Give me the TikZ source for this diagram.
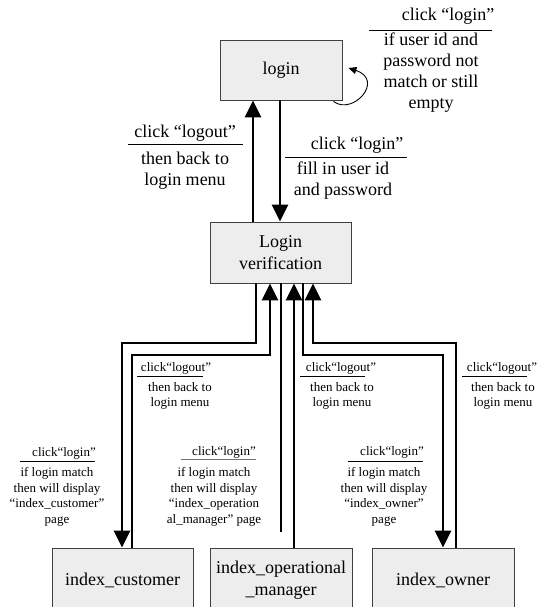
\documentclass[tikz,border=0pt]{standalone}
\usepackage{fontspec}
\setmainfont{Liberation Serif}
\usetikzlibrary{arrows.meta}
\begin{document}
\begin{tikzpicture}[x=1pt,y=-1pt,
  state/.style={draw=black!75,line width=0.9pt,fill=black!7,inner sep=0pt,
    align=center,font=\fontsize{18}{22}\selectfont},
  flow/.style={line width=2.8pt,-{Triangle[length=17pt,width=16pt]}},
  plain/.style={line width=2.8pt},
  loopflow/.style={line width=0.9pt,-{Triangle[length=8pt,width=7pt]}},
  big/.style={font=\fontsize{18}{21}\selectfont,inner sep=0pt,align=center},
  small/.style={font=\fontsize{13}{15.7}\selectfont,inner sep=0pt,align=center},
  rule/.style={line width=0.9pt},
]
\useasboundingbox (0,0) rectangle (538,607);

% states
\node[state,minimum width=122pt,minimum height=60pt] (login) at (281,70) {login};
\node[state,minimum width=141pt,minimum height=61pt] (verif) at (280.5,252.5) {Login\\verification};
\node[state,minimum width=141pt,minimum height=64pt] (cust) at (122.5,580) {index\_customer};
\node[state,minimum width=142pt,minimum height=64pt] (opm) at (281,580) {index\_operational\\\_manager};
\node[state,minimum width=142pt,minimum height=64pt] (owner) at (443,580) {index\_owner};

% login <-> verification
\draw[flow] (verif.north -| 253,0) -- (login.south -| 253,0);
\draw[flow] (login.south -| 280,0) -- (verif.north -| 280,0);
\draw[loopflow] ([xshift=-9pt,yshift=-1pt]login.south east)
  .. controls (353,116) and (385,80) .. ([xshift=6pt,yshift=2pt]login.east);

% verification <-> index pages
\draw[flow] (verif.south -| 256,0) |- (122,343) -- (cust.north -| 122,0);
\draw[flow] (cust.north -| 132,0) |- (270,355) -- (verif.south -| 270,0);
\draw[plain] (verif.south -| 281,0) -- (281,532);
\draw[flow] (opm.north -| 294,0) -- (verif.south -| 294,0);
\draw[flow] (verif.south -| 303,0) |- (443,355) -- (owner.north -| 443,0);
\draw[flow] (owner.north -| 456,0) |- (313,343) -- (verif.south -| 313,0);

% labels of the upper part
\node[big] (lbA) at (448,16) {click “login”};
\draw[rule] (369,30) -- (492,30);
\node[big,anchor=north] (lbAt) at (431,33) {if user id and\\password not\\match or still\\empty};

\node[big] (lbB) at (185,133) {click “logout”};
\draw[rule] (128,144) -- (243,144);
\node[big,anchor=north] (lbBt) at (185,152) {then back to\\login menu};

\node[big] (lbC) at (357,145) {click “login”};
\draw[rule] (285,157) -- (407,157);
\node[big,anchor=north] (lbCt) at (343,162) {fill in user id\\and password};

% labels of the lower part: logout
\node[small] (loA) at (176,368) {click“logout”};
\draw[rule] (137,376) -- (203,376);
\node[small,anchor=north] (loAt) at (180,382) {then back to\\login menu};

\node[small] (loB) at (341,368) {click“logout”};
\draw[rule] (300,376) -- (365,376);
\node[small,anchor=north] (loBt) at (342,382) {then back to\\login menu};

\node[small] (loC) at (502,368) {click“logout”};
\draw[rule] (462,376) -- (527,376);
\node[small,anchor=north] (loCt) at (503,382) {then back to\\login menu};

% labels of the lower part: login
\node[small] (liA) at (64,453) {click“login”};
\draw[rule] (20,461) -- (95,461);
\node[small,anchor=north] (liAt) at (57,467) {if login match\\then will display\\“index\_customer”\\page};

\node[small] (liB) at (224,452) {click“login”};
\draw[rule,black!55] (181,459) -- (256,459);
\node[small,anchor=north] (liBt) at (214,467) {if login match\\then will display\\“index\_operation\\al\_manager” page};

\node[small] (liC) at (392,452) {click“login”};
\draw[rule] (348,461) -- (423,461);
\node[small,anchor=north] (liCt) at (384,467) {if login match\\then will display\\“index\_owner”\\page};
\end{tikzpicture}
\end{document}
